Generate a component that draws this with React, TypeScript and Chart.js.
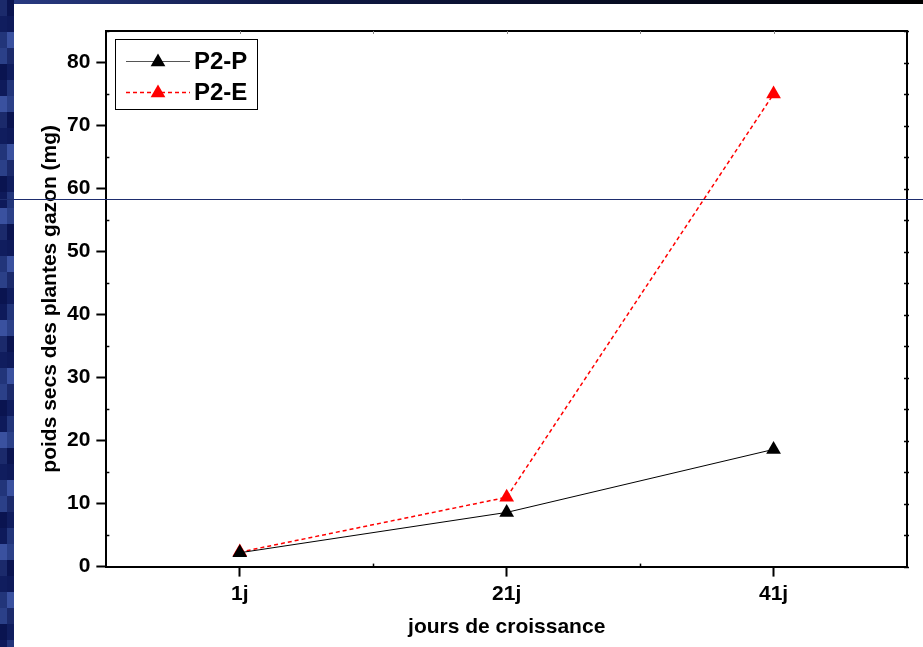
import React, { useEffect, useRef } from "react";
import { Chart, registerables } from "chart.js";

Chart.register(...registerables);

const categories = ["1j", "21j", "41j"];
const seriesP2P = [2.2, 8.6, 18.6];
const seriesP2E = [2.3, 11.0, 75.0];
const yMin = 0;
const yMax = 85;
const yStep = 10;
const yMinorStep = 5;
const seriesLabels = ["P2-P", "P2-E"];
const seriesColors = ["#000000", "#ff0000"];

const FONT = "Liberation Sans, Arial, sans-serif";
const stripPalette = ["#1b2a6b", "#0e1a5a", "#2b4088", "#101d5e", "#3a519f", "#0a1450", "#22357a"];

function drawTriangle(ctx: CanvasRenderingContext2D, x: number, y: number, r: number, color: string) {
  ctx.save();
  ctx.fillStyle = color;
  ctx.beginPath();
  ctx.moveTo(x, y - r);
  ctx.lineTo(x + r * 0.866, y + r / 2);
  ctx.lineTo(x - r * 0.866, y + r / 2);
  ctx.closePath();
  ctx.fill();
  ctx.restore();
}

const framePlugin = {
  id: "frame",
  beforeDraw(chart: any) {
    const ctx = chart.ctx as CanvasRenderingContext2D;
    const W = chart.width;
    const H = chart.height;
    ctx.save();
    ctx.fillStyle = "#0d1850";
    ctx.fillRect(0, 0, W, H);
    const bw = 7;
    const bh = 16;
    for (let row = 0; row * bh < H; row++) {
      for (let col = 0; col < 2; col++) {
        ctx.fillStyle = stripPalette[(row * 3 + col * 5) % stripPalette.length];
        ctx.fillRect(col * bw, row * bh, bw, bh);
      }
    }
    const g = ctx.createLinearGradient(0, 0, W, 0);
    g.addColorStop(0, "#2a3c84");
    g.addColorStop(0.3, "#101a48");
    g.addColorStop(1, "#000000");
    ctx.fillStyle = g;
    ctx.fillRect(14, 0, W - 14, 4);
    ctx.fillStyle = "#ffffff";
    ctx.fillRect(14, 4, W - 14, H - 4);
    ctx.restore();
  },
  afterDraw(chart: any) {
    const ctx = chart.ctx as CanvasRenderingContext2D;
    const { left, right, top, bottom } = chart.chartArea;
    const ys = chart.scales.y;
    const xs = chart.scales.x;
    ctx.save();
    ctx.strokeStyle = "#000";
    ctx.lineWidth = 2;
    ctx.beginPath();
    ctx.moveTo(left - 1, top);
    ctx.lineTo(right, top);
    ctx.lineTo(right, bottom + 1);
    ctx.stroke();
    ctx.lineWidth = 1.5;
    for (let v = yMin; v <= yMax; v += yMinorStep) {
      const py = Math.round(ys.getPixelForValue(v)) + 0.5;
      const major = v % yStep === 0;
      if (!major) {
        ctx.beginPath();
        ctx.moveTo(left, py);
        ctx.lineTo(left + 3, py);
        ctx.stroke();
      }
      ctx.beginPath();
      ctx.moveTo(right - 3, py);
      ctx.lineTo(right + 2, py);
      ctx.stroke();
    }
    const n = categories.length;
    const step = (right - left) / n;
    for (let i = 1; i < n; i++) {
      const px = Math.round(left + i * step) + 0.5;
      ctx.beginPath();
      ctx.moveTo(px, bottom);
      ctx.lineTo(px, bottom - 3);
      ctx.stroke();
    }
    ctx.strokeStyle = "#888";
    ctx.lineWidth = 1;
    for (let i = 0; i < n; i++) {
      const px = Math.round(xs.getPixelForValue(i)) + 0.5;
      ctx.beginPath();
      ctx.moveTo(px, top);
      ctx.lineTo(px, top + 3);
      ctx.stroke();
      if (i > 0) {
        const mx = Math.round(left + i * step) + 0.5;
        ctx.beginPath();
        ctx.moveTo(mx, top);
        ctx.lineTo(mx, top + 3);
        ctx.stroke();
      }
    }
    // legend
    const lx = 115, ly = 39, lw = 142, lh = 70;
    ctx.fillStyle = "#fff";
    ctx.fillRect(lx, ly, lw, lh);
    ctx.strokeStyle = "#000";
    ctx.lineWidth = 1;
    ctx.strokeRect(lx + 0.5, ly + 0.5, lw, lh);
    const rowsY = [61, 92];
    rowsY.forEach((ry, i) => {
      ctx.strokeStyle = i === 0 ? "#555" : seriesColors[i];
      ctx.lineWidth = i === 0 ? 1 : 1.5;
      ctx.setLineDash(i === 0 ? [] : [4, 3]);
      ctx.beginPath();
      ctx.moveTo(126, ry + 0.5);
      ctx.lineTo(190, ry + 0.5);
      ctx.stroke();
      ctx.setLineDash([]);
      drawTriangle(ctx, 158, ry + 1, 8.5, seriesColors[i]);
      ctx.fillStyle = "#000";
      ctx.font = `bold 24px ${FONT}`;
      ctx.textBaseline = "middle";
      ctx.textAlign = "left";
      ctx.fillText(seriesLabels[i], 194, ry + 1);
    });
    // horizontal artifact line
    ctx.strokeStyle = "#1e2d6e";
    ctx.lineWidth = 1;
    ctx.beginPath();
    ctx.moveTo(0, 199.5);
    ctx.lineTo(chart.width, 199.5);
    ctx.stroke();
    ctx.restore();
  },
};

export default function App() {
  const ref = useRef<HTMLCanvasElement | null>(null);
  useEffect(() => {
    if (!ref.current) return;
    const tickFont = { family: FONT, weight: "bold" as const, size: 21 };
    const yTitleFont = { family: FONT, weight: "bold" as const, size: 21, lineHeight: 1.0 };
    const chart = new Chart(ref.current, {
      type: "line",
      data: {
        labels: categories,
        datasets: [
          {
            label: seriesLabels[0],
            data: seriesP2P,
            borderColor: seriesColors[0],
            backgroundColor: seriesColors[0],
            borderWidth: 1,
            pointStyle: "triangle",
            pointRadius: 8.5,
            pointBorderWidth: 0,
            tension: 0,
          },
          {
            label: seriesLabels[1],
            data: seriesP2E,
            borderColor: seriesColors[1],
            backgroundColor: seriesColors[1],
            borderWidth: 1.5,
            borderDash: [4, 3],
            pointStyle: "triangle",
            pointRadius: 8.5,
            pointBorderWidth: 0,
            tension: 0,
          },
        ],
      },
      options: {
        responsive: false,
        animation: false,
        layout: { padding: { left: 36, top: 31, right: 16, bottom: 3 } },
        plugins: { legend: { display: false }, tooltip: { enabled: false } },
        scales: {
          x: {
            type: "category",
            offset: true,
            grid: { offset: false, drawOnChartArea: false, drawTicks: true, tickLength: 10, color: "#000", tickWidth: 2 },
            border: { display: true, color: "#000", width: 2 },
            ticks: { color: "#000", font: tickFont, padding: 5, maxRotation: 0 },
            title: { display: true, text: "jours de croissance", color: "#000", font: tickFont, padding: { top: 3, bottom: 4 } },
          },
          y: {
            min: yMin,
            max: yMax,
            grid: { drawOnChartArea: false, drawTicks: true, tickLength: 10, color: "#000", tickWidth: 2 },
            border: { display: true, color: "#000", width: 2 },
            ticks: { stepSize: yStep, includeBounds: false, color: "#000", font: tickFont, padding: 6 },
            title: { display: true, text: "poids secs des plantes gazon (mg)", color: "#000", font: yTitleFont, padding: { top: 4, bottom: 0 } },
          },
        },
      },
      plugins: [framePlugin],
    });
    return () => chart.destroy();
  }, []);
  return (
    <div style={{ position: "absolute", left: 0, top: 0, width: 923, height: 647 }}>
      <canvas ref={ref} width={923} height={647} style={{ display: "block" }} />
    </div>
  );
}
